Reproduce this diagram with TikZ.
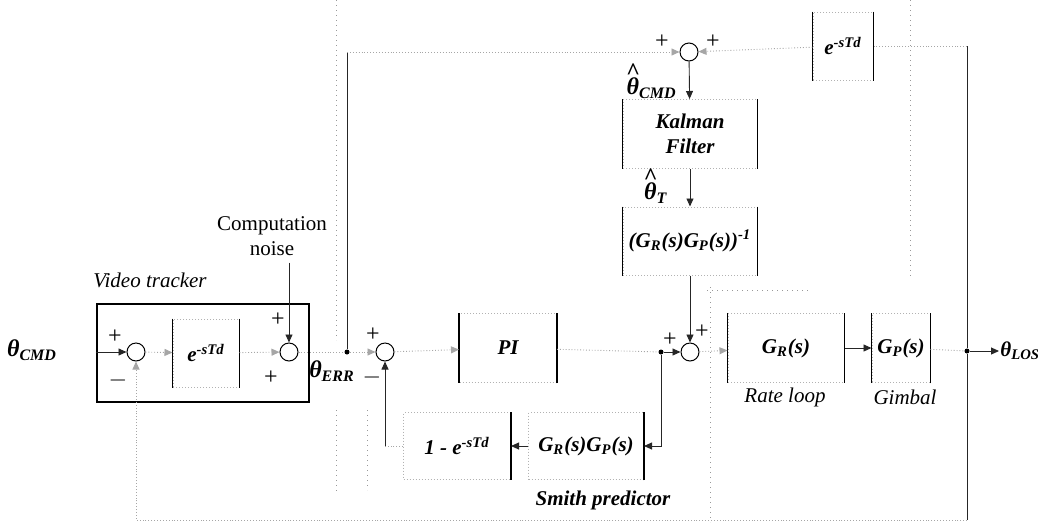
\documentclass[tikz,border=0pt]{standalone}
\usepackage{fontspec}
\setmainfont{Liberation Serif}
\usetikzlibrary{positioning,arrows.meta}

\newcommand{\bi}[1]{\textbf{\textit{#1}}}
\newcommand{\thsub}[1]{\bi{θ}\textsubscript{\bi{#1}}}
\newcommand{\hatth}{\ooalign{\bi{θ}\cr\hidewidth\raisebox{0.62em}{\bi{\textasciicircum}}\hidewidth\cr}}
\newcommand{\thhat}[1]{\hatth\textsubscript{\bi{#1}}}
\newcommand{\edelay}{\bi{e}\textsuperscript{\bi{-sTd}}}

\begin{document}
\begin{tikzpicture}[
  x=0.5pt, y=-0.5pt,
  >={Triangle[length=4pt,width=3.5pt]},
  font=\fontsize{10.5}{12.5}\selectfont,
  blk/.style={
    rectangle, draw=black!30, densely dotted, line width=0.5pt,
    inner sep=2pt, align=center, font=\fontsize{10.5}{12.5}\selectfont\bfseries\itshape
  },
  sumc/.style={circle, draw=black, line width=0.5pt, minimum size=9pt, inner sep=0pt},
  dot/.style={circle, fill=black, minimum size=2.5pt, inner sep=0pt},
  sgn/.style={inner sep=0pt, font=\fontsize{12}{12}\selectfont},
  sig/.style={line width=0.45pt, draw=black!85},
  faint/.style={line width=0.45pt, draw=black!35, densely dotted},
  scan/.style={line width=0.5pt, draw=black!40, dotted},
  side/.style={line width=0.6pt, draw=black}
]
\useasboundingbox (0,0) rectangle (1038,531);

% video tracker
\node (cmd) at (32,350) {\large\thsub{CMD}};
\node[draw, line width=1.4pt, minimum width=106pt, minimum height=49pt] (vt) at (203,353) {};
\node[font=\fontsize{10.5}{12.5}\selectfont\itshape] (vtlbl) at (150,280) {Video tracker};
\node[sumc] (s1) at (136,352) {};
\node[sgn] at (115,337) {+};
\node[sgn] at (118,380) {$-$};
\node[blk, minimum width=33pt, minimum height=34pt] (dly) at (206,353) {\edelay};
\node[sumc] (s2) at (289,352) {};
\node[sgn] at (278,320) {+};
\node[sgn] at (271,378) {+};
\node[align=center] (noise) at (272,236) {Computation\\noise};
\node (err) at (332,371) {\large\thsub{ERR}};

% forward path
\node[dot] (j1) at (347,352) {};
\node[sumc] (s3) at (385,352) {};
\node[sgn] at (373,335) {+};
\node[sgn] at (372,377) {$-$};
\node[blk, minimum width=48.5pt, minimum height=34.5pt] (pi) at (508,348) {PI};
\node[dot] (j2) at (661,352) {};
\node[sumc] (s4) at (690,352) {};
\node[sgn] at (670,340) {+};
\node[sgn] at (702,332) {+};
\node[blk, minimum width=58pt, minimum height=34.5pt] (grb) at (786,348) {\bi{G}\textsubscript{\bi{R}}\bi{(s)}};
\node[blk, minimum width=29pt, minimum height=34.5pt] (gpb) at (901,348) {\bi{G}\textsubscript{\bi{P}}\bi{(s)}};
\node[font=\fontsize{10.5}{12.5}\selectfont\itshape] (rlbl) at (785,397) {Rate loop};
\node[font=\fontsize{10.5}{12.5}\selectfont\itshape] (glbl) at (905,397) {Gimbal};
\node[dot] (j3) at (967,351) {};
\node[anchor=west, inner sep=0.5pt] (los) at (999,351) {\thsub{LOS}};

% Kalman branch
\node[blk, minimum width=30pt, minimum height=34pt] (topd) at (843,46) {\edelay};
\node[sumc] (s5) at (689,52) {};
\node[sgn] at (662,42) {+};
\node[sgn] at (713,42) {+};
\node[blk, minimum width=67pt, minimum height=34.5pt] (kf) at (690,134) {Kalman\\Filter};
\node[anchor=east, inner sep=1pt] (thc) at (679,88) {\large\thhat{CMD}};
\node[blk, minimum width=67pt, minimum height=34pt] (inv) at (690,241) {(\bi{G}\textsubscript{\bi{R}}\bi{(s)G}\textsubscript{\bi{P}}\bi{(s))}\textsuperscript{\bi{-1}}};
\node[inner sep=1pt] (tht) at (656,193) {\large\thhat{T}};

% Smith predictor
\node[blk, minimum width=57.5pt, minimum height=33.5pt] (smp) at (586,446) {\bi{G}\textsubscript{\bi{R}}\bi{(s)G}\textsubscript{\bi{P}}\bi{(s)}};
\node[blk, minimum width=53.5pt, minimum height=33.5pt] (oned) at (457,446) {\bi{1 - e}\textsuperscript{\bi{-sTd}}};
\node[font=\fontsize{10.5}{12.5}\selectfont\bfseries\itshape] (splbl) at (603,500) {Smith predictor};
\coordinate (bot) at (967,520);

% solid block sides
\foreach \b in {dly,pi,grb,gpb,topd,kf,inv}
  \draw[side] (\b.north west) -- (\b.south west) (\b.north east) -- (\b.south east);
\foreach \b in {smp,oned}
  \draw[side] (\b.north east) -- (\b.south east);

% connectors
\draw[sig, ->] (vt.west |- s1) -- (s1);
\draw[faint, ->] (s1) -- (dly);
\draw[faint, ->] (dly) -- (s2);
\draw[sig, ->] (noise.south -| s2) -- (s2);
\draw[faint] (s2) -- (j1);
\draw[faint, ->] (j1) -- (s3);
\draw[sig] (j1) -- (j1 |- s5);
\draw[faint, ->] (j1 |- s5) -- (s5);
\draw[faint, ->] (s3) -- (pi);
\draw[faint] (pi) -- (j2);
\draw[sig, ->] (j2) -- (s4);
\draw[sig, ->] (j2) |- (smp);
\draw[sig, ->] (smp) -- (oned);
\draw[faint] (oned.west) -- (oned.west -| s3);
\draw[sig, ->] (oned.west -| s3) -- (s3);
\draw[sig, ->] (inv) -- (s4);
\draw[faint, ->] (s4) -- (grb);
\draw[sig, ->] (grb) -- (gpb);
\draw[faint] (gpb) -- (j3);
\draw[sig, ->] (j3) -- (los);
\draw[sig] (j3) -- (j3 |- topd) (j3) -- (bot);
\draw[faint] (j3 |- topd) -- (topd);
\draw[faint, ->] (topd) -- (s5);
\draw[sig, ->] (s5) -- (kf);
\draw[sig, ->] (kf) -- (inv);
\draw[faint, ->] (bot) -| (s1);

% scan traces
\draw[scan] (336,0) -- (336,340) (336,410) -- (336,493);
\draw[scan] (367,410) -- (367,490);
\draw[scan] (710,287) -- (710,522);
\draw[scan] (910,0) -- (910,277);
\draw[scan] (707,290) -- (810,290);

\end{tikzpicture}
\end{document}
